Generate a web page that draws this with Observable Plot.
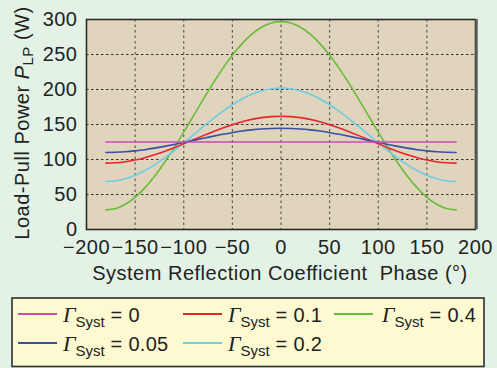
<!DOCTYPE html>
<html>
<head>
<meta charset="utf-8">
<script src="https://cdn.jsdelivr.net/npm/d3@7"></script>
<script src="https://cdn.jsdelivr.net/npm/@observablehq/plot@0.6"></script>
<style>
  html, body { margin: 0; padding: 0; background: #e3f2e5; }
  #wrap { position: relative; width: 497px; height: 368px; background: #e3f2e5; overflow: hidden; }
  #legend { position: absolute; left: 0; top: 292px; }
</style>
</head>
<body>
<div id="wrap"></div>
<script>
// ---- data ----
const phase = [-180,-170,-160,-150,-140,-130,-120,-110,-100,-90,-80,-70,-60,-50,-40,-30,-20,-10,0,
               10,20,30,40,50,60,70,80,90,100,110,120,130,140,150,160,170,180];
const gamma0    = [125,125,125,125,125,125,125,125,125,125,125,125,125,125,125,125,125,125,125,
                   125,125,125,125,125,125,125,125,125,125,125,125,125,125,125,125,125,125];
const gamma005  = [110,110.3,111,112.3,114,116.2,118.7,121.4,124.3,127.3,130.3,133.2,136,138.4,140.6,142.3,143.6,144.3,144.6,
                   144.3,143.6,142.3,140.6,138.4,136,133.2,130.3,127.3,124.3,121.4,118.7,116.2,114,112.3,111,110.3,110];
const gamma01   = [94.8,95.3,96.8,99.3,102.6,106.8,111.6,116.8,122.5,128.3,134.1,139.8,145.1,149.8,154,157.3,159.8,161.3,161.8,
                   161.3,159.8,157.3,154,149.8,145.1,139.8,134.1,128.3,122.5,116.8,111.6,106.8,102.6,99.3,96.8,95.3,94.8];
const gamma02   = [68.6,69.6,72.6,77.5,84.2,92.4,102,112.5,123.7,135.3,146.9,158.1,168.7,178.2,186.4,193.1,198,201,202,
                   201,198,193.1,186.4,178.2,168.7,158.1,146.9,135.3,123.7,112.5,102,92.4,84.2,77.5,72.6,69.6,68.6];
const gamma04   = [28,30,36.1,46,59.5,76,95.3,116.5,139.1,162.5,185.9,208.5,229.8,249,265.5,279,288.9,295,297,
                   295,288.9,279,265.5,249,229.8,208.5,185.9,162.5,139.1,116.5,95.3,76,59.5,46,36.1,30,28];
const gammaLabels = ["0", "0.05", "0.1", "0.2", "0.4"];
const gammaColors = ["#c44fb0", "#3a4fa3", "#e8252b", "#6ecde2", "#6bbb3e"];
const xTicks = [-200,-150,-100,-50,0,50,100,150,200];
const yTicks = [0,50,100,150,200,250,300];
const xTitle = "System Reflection Coefficient\u00a0 Phase (°)";
const yTitleParts = ["Load-Pull Power ", "P", "LP", " (W)"];

// ---- build table ----
const seriesValues = [gamma0, gamma005, gamma01, gamma02, gamma04];
const rows = [];
seriesValues.forEach((vals, i) => {
  vals.forEach((v, j) => rows.push({phase: phase[j], power: v, gamma: gammaLabels[i]}));
});
const drawOrder = ["0.4", "0.2", "0.1", "0.05", "0"];

const font = "'Liberation Sans', Arial, Helvetica, sans-serif";

const chart = Plot.plot({
  width: 497,
  height: 290,
  marginLeft: 86,
  marginRight: 22,
  marginTop: 19,
  marginBottom: 61,
  style: {background: "transparent", fontFamily: font, fontSize: "20px", letterSpacing: "0.5px", color: "#222", overflow: "visible"},
  x: {domain: [-200, 200]},
  y: {domain: [0, 300]},
  color: {domain: gammaLabels, range: gammaColors},
  marks: [
    Plot.frame({fill: "#e1d4bc", stroke: null}),
    Plot.gridX({ticks: xTicks.slice(1, -1), stroke: "#3a3a3a", strokeOpacity: 0.85, strokeDasharray: "2.5,3", strokeWidth: 1.1}),
    Plot.gridY({ticks: yTicks.slice(1, -1), stroke: "#222", strokeOpacity: 0.9, strokeDasharray: "2.5,2.5", strokeWidth: 1}),
    ...drawOrder.map(g => Plot.line(rows.filter(d => d.gamma === g), {
      x: "phase", y: "power", stroke: "gamma", strokeWidth: 1.6, curve: "natural"
    })),
    Plot.frame({stroke: "#2a2a2a", strokeWidth: 1.6}),
    Plot.ruleX([200], {stroke: "#5d5d5d", strokeWidth: 2.5, dx: 1}),
    Plot.axisX({ticks: xTicks, tickSize: 0, tickPadding: 10, label: null}),
    Plot.axisY({ticks: yTicks, tickSize: 0, tickPadding: 9, label: null})
  ]
});

const wrap = document.getElementById("wrap");
wrap.appendChild(chart);

const svg = d3.select(chart);
// x title
svg.append("text")
  .attr("x", 280).attr("y", 280)
  .attr("text-anchor", "middle")
  .attr("fill", "#222")
  .style("font-family", font).style("font-size", "20px").style("letter-spacing", "0.5px")
  .text(xTitle);
// y title
const yt = svg.append("text")
  .attr("transform", "translate(28.5,123) rotate(-90)")
  .attr("text-anchor", "middle")
  .attr("fill", "#222")
  .style("font-family", font).style("font-size", "20px").style("letter-spacing", "0.5px");
yt.append("tspan").text(yTitleParts[0]);
yt.append("tspan").style("font-style", "italic").text(yTitleParts[1]);
yt.append("tspan").style("font-size", "15px").attr("dy", 4).text(yTitleParts[2]);
yt.append("tspan").attr("dy", -4).text(yTitleParts[3]);

// ---- legend (below the plot) ----
const leg = d3.select(wrap).append("svg")
  .attr("id", "legend").attr("width", 497).attr("height", 76);
leg.append("rect")
  .attr("x", 12).attr("y", 6).attr("width", 472).attr("height", 68.5)
  .attr("fill", "#fdf9d0").attr("stroke", "#2d2d2d").attr("stroke-width", 1.6);
const colSwatch = [18, 183, 334];
const colText = [63, 228, 382];
const rowSwatch = [22, 51];
const rowBase = [30, 59];
gammaLabels.forEach((g, i) => {
  const c = Math.floor(i / 2), r = i % 2;
  leg.append("line")
    .attr("x1", colSwatch[c]).attr("x2", colSwatch[c] + 39)
    .attr("y1", rowSwatch[r]).attr("y2", rowSwatch[r])
    .attr("stroke", gammaColors[i]).attr("stroke-width", 1.8);
  const t = leg.append("text")
    .attr("x", colText[c]).attr("y", rowBase[r])
    .attr("fill", "#222")
    .style("font-family", font).style("font-size", "20px");
  t.append("tspan").style("font-family", "'Liberation Serif', 'Times New Roman', serif")
    .style("font-style", "italic").style("font-size", "22px").text("Γ");
  t.append("tspan").style("font-size", "15px").attr("dy", 5).text("Syst");
  t.append("tspan").attr("dy", -5).style("letter-spacing", "0.3px").text(" = " + g);
});
</script>
</body>
</html>
